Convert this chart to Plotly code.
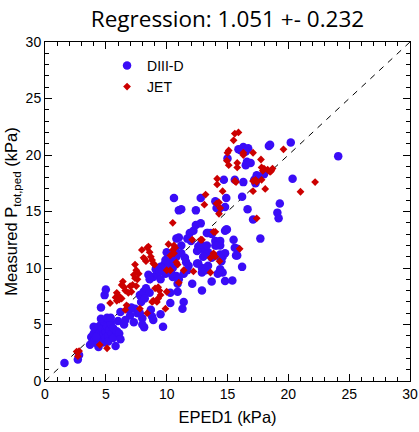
import plotly.graph_objects as go

# DIII-D points (EPED1, measured)
diiid_x = [1.6, 2.7, 2.8,
    3.8, 3.9, 4.0, 4.1, 4.2, 4.3, 4.3, 4.4, 4.5, 4.5, 4.6, 4.7, 4.7, 4.8, 4.8, 4.9, 5.0, 5.0, 5.1, 5.2, 5.2, 5.3, 5.4, 5.5, 5.6, 5.6, 5.8, 5.9, 6.1, 6.2, 4.4, 3.7, 4.0, 4.6, 5.1, 4.2,
    4.6, 4.9, 5.0, 5.4, 6.2, 6.9, 7.1, 7.4, 8.0, 8.15, 9.7, 6.0, 6.5, 7.0, 7.6, 7.8, 8.0, 8.7, 8.8, 8.9, 9.5, 6.6, 7.3,
    7.8, 8.1, 8.3, 8.6, 7.9, 8.2, 8.9, 9.2, 9.1, 9.5, 9.8, 10.1, 10.4, 10.5, 10.2, 9.9, 9.5, 10.9, 10.9, 8.5, 8.6, 10.0, 9.9, 10.2, 10.5, 9.6, 9.4, 10.8, 10.6, 11.0,
    10.3, 10.3, 11.4, 11.3, 12.1, 12.9, 13.7, 14.8, 15.4, 14.6, 14.2, 14.4, 10.5, 10.8, 11.0, 10.4,
    10.6, 10.8, 10.4, 10.7, 11.5, 11.2, 11.6, 11.8, 11.7, 11.4, 12.9, 12.6, 12.9, 13.2, 13.4, 12.5,
    11.9, 12.2, 11.7, 12.0, 12.6, 12.9, 12.5, 12.8, 13.4, 13.2, 13.0, 13.7, 14.6, 14.5, 14.8, 13.7, 13.4, 14.8, 14.2, 14.0, 14.4, 15.5, 15.6, 15.7, 16.2, 17.7, 14.4, 14.0, 13.3, 13.6, 14.9, 11.0, 11.2, 12.4, 12.8, 13.3, 14.95, 14.1, 15.8, 14.4, 15.8, 14.4,
    11.2, 12.4, 12.8, 14.0, 14.3, 14.8, 14.9, 16.2, 14.1, 16.65, 17.1, 19.3, 19.1, 19.2, 15.6, 14.7, 16.3, 17.3, 17.6, 17.4, 16.6, 16.5, 16.9, 15.0, 16.1, 16.3, 16.7, 16.5, 15.9, 18.4, 18.5, 20.2, 24.1, 20.35, 17.2, 18.0]
diiid_y = [1.6, 1.9, 2.3,
    3.9, 3.5, 4.2, 3.7, 4.5, 3.3, 4.0, 4.8, 3.6, 4.3, 5.0, 3.9, 4.6, 3.4, 4.1, 5.2, 4.4, 3.8, 4.8, 4.0, 3.5, 4.5, 5.1, 4.2, 3.8, 4.7, 3.1, 4.4, 4.2, 3.7, 3.0, 3.2, 4.8, 5.5, 5.6, 3.9,
    6.5, 7.6, 8.1, 5.6, 6.1, 6.3, 6.5, 6.4, 5.55, 4.75, 4.8, 5.3, 5.0, 5.8, 6.0, 6.0, 5.0, 6.3, 5.7, 5.4, 5.9, 5.4, 5.2,
    7.6, 7.9, 8.2, 7.8, 7.0, 7.3, 9.2, 9.5, 9.9, 10.1, 10.3, 10.5, 10.6, 10.2, 9.8, 9.5, 9.0, 8.6, 7.9, 9.4, 9.0, 11.4, 10.7, 10.3, 10.0, 10.0, 9.7, 12.6, 16.2, 15.1,
    7.8, 6.9, 7.0, 6.4, 8.6, 8.0, 8.8, 8.85, 8.9, 9.6, 9.5, 9.9, 9.2, 9.3, 9.0, 9.5,
    10.5, 11.0, 11.2, 11.6, 10.9, 11.3, 10.5, 10.2, 9.8, 9.5, 10.0, 10.4, 9.6, 9.8, 10.2, 10.4,
    13.1, 13.3, 12.6, 12.4, 11.9, 11.7, 11.5, 12.1, 11.4, 11.2, 11.0, 10.9, 11.0, 10.6, 11.3, 13.0, 13.1, 13.3, 12.2, 12.4, 12.0, 12.5, 11.8, 11.1, 10.1, 12.6, 12.4, 12.0, 12.0, 13.1, 13.4, 12.7, 12.0, 13.8, 13.95, 13.1, 13.4, 12.0, 11.7, 11.2, 11.1, 10.9,
    15.2, 15.1, 16.2, 15.9, 15.2, 15.4, 16.2, 16.3, 15.3, 15.2, 14.3, 15.7, 14.9, 14.4, 17.8, 17.8, 17.6, 17.5, 18.1, 18.2, 19.4, 19.1, 19.3, 19.7, 20.4, 20.7, 20.6, 20.3, 20.5, 20.8, 20.9, 21.1, 19.9, 17.9, 17.8, 18.3]

# JET points
jet_x = [2.6, 2.8, 2.7, 4.5, 5.1,
    5.35, 5.9, 5.8, 6.0, 6.1, 6.3, 5.9, 6.4, 6.3, 6.5, 6.6, 6.85, 7.1, 7.5, 7.2, 7.0, 6.7, 6.6, 7.8, 7.4, 7.5, 7.3, 7.6, 7.7, 7.4,
    7.96, 8.5, 8.4, 8.1, 8.2, 8.3, 8.7, 8.8, 8.9, 9.0, 8.6, 9.05, 9.3, 9.4, 9.5, 9.3, 9.2, 8.8, 8.9, 10.0, 9.9, 8.4,
    10.15, 10.5, 10.6, 10.3, 10.5, 10.0, 10.3, 10.8, 10.9, 10.7, 10.6, 11.0, 11.4, 12.2, 13.6, 14.35, 13.85, 14.0, 13.6, 12.8, 12.1, 14.0, 16.0, 12.9,
    13.85, 14.3, 14.4, 14.1, 14.3, 13.1, 13.2, 14.6, 14.15, 14.15, 15.6, 15.7, 17.1, 17.3, 17.4, 17.8, 17.1, 18.1, 17.4, 21.0, 22.2,
    17.75, 17.8, 18.0, 18.3, 18.6, 18.7, 18.5, 17.9, 19.6, 15.6, 15.9, 15.5, 15.1, 15.0, 16.3, 16.3, 17.1, 14.95, 15.8, 15.8, 15.1]
jet_y = [2.6, 2.65, 2.2, 3.2, 2.9,
    6.9, 7.8, 7.4, 7.6, 7.2, 7.3, 7.1, 8.8, 8.5, 8.3, 8.0, 7.8, 7.9, 8.4, 8.5, 8.4, 6.7, 6.3, 6.4, 10.3, 9.8, 9.4, 9.0, 9.5, 9.1,
    11.6, 11.9, 11.8, 10.9, 10.8, 10.6, 11.0, 10.7, 10.4, 10.3, 11.4, 8.2, 8.3, 8.0, 7.6, 7.3, 7.0, 7.0, 7.1, 7.9, 6.4, 6.0,
    12.1, 11.6, 11.3, 11.1, 14.0, 9.8, 9.8, 10.5, 10.3, 11.8, 12.0, 8.7, 9.8, 9.7, 9.6, 10.6, 11.3, 11.0, 10.9, 12.5, 12.5, 13.2, 11.7, 12.5,
    13.2, 14.8, 15.3, 15.7, 15.8, 15.6, 16.5, 16.8, 17.9, 17.4, 17.7, 17.6, 17.7, 17.8, 17.6, 17.8, 16.8, 17.0, 14.4, 16.75, 17.6,
    19.6, 18.9, 18.8, 18.7, 18.6, 18.8, 18.5, 18.6, 20.5, 21.9, 22.0, 21.3, 20.4, 20.2, 20.2, 20.0, 20.2, 19.5, 19.3, 18.9, 19.1]

diag = [0, 30]
x_ticks = [0, 5, 10, 15, 20, 25, 30]
y_ticks = [0, 5, 10, 15, 20, 25, 30]
title_text = "Regression: 1.051 +- 0.232"

fig = go.Figure()
fig.add_trace(go.Scatter(x=diag, y=diag, mode="lines", showlegend=False,
                         line=dict(color="black", width=1, dash="6px,6px")))
fig.add_trace(go.Scatter(x=diiid_x, y=diiid_y, mode="markers", name="DIII-D",
                         marker=dict(symbol="circle", size=8.5, color="#3a0cf7", line=dict(width=0))))
fig.add_trace(go.Scatter(x=jet_x, y=jet_y, mode="markers", name="JET",
                         marker=dict(symbol="diamond", size=6, color="#cc0000", line=dict(width=0))))

axis_common = dict(range=[0, 30], showgrid=False, zeroline=False, showline=True, linecolor="black",
                   linewidth=1, mirror="ticks", ticks="inside", ticklen=7, tickwidth=1, tickcolor="black",
                   automargin=False,
                   minor=dict(ticks="inside", dtick=1, ticklen=4, tickcolor="black", showgrid=False),
                   tickfont=dict(family="Liberation Sans, Arial", size=14, color="black"))

fig.update_layout(
    width=419, height=432,
    margin=dict(l=45, r=9, t=42, b=51, autoexpand=False),
    paper_bgcolor="white", plot_bgcolor="white",
    title=dict(text=title_text, x=0.5, xref="paper", xanchor="center", y=0.975, yanchor="top",
               font=dict(family="Open Sans, Noto Sans", size=22.5, color="black")),
    xaxis=dict(axis_common, tickvals=x_ticks,
               title=dict(text="EPED1 (kPa)", font=dict(family="Liberation Sans, Arial", size=16.5, color="black"), standoff=10)),
    yaxis=dict(axis_common, tickvals=y_ticks,
               title=dict(text="Measured P<sub>tot,ped</sub> (kPa)", font=dict(family="Liberation Sans, Arial", size=16.5, color="black"), standoff=3)),
    legend=dict(x=0.17, y=0.977, xanchor="left", yanchor="top", bgcolor="rgba(0,0,0,0)",
                font=dict(family="Liberation Sans, Arial", size=14, color="black")),
    showlegend=True,
)

fig.write_html("out.html")
